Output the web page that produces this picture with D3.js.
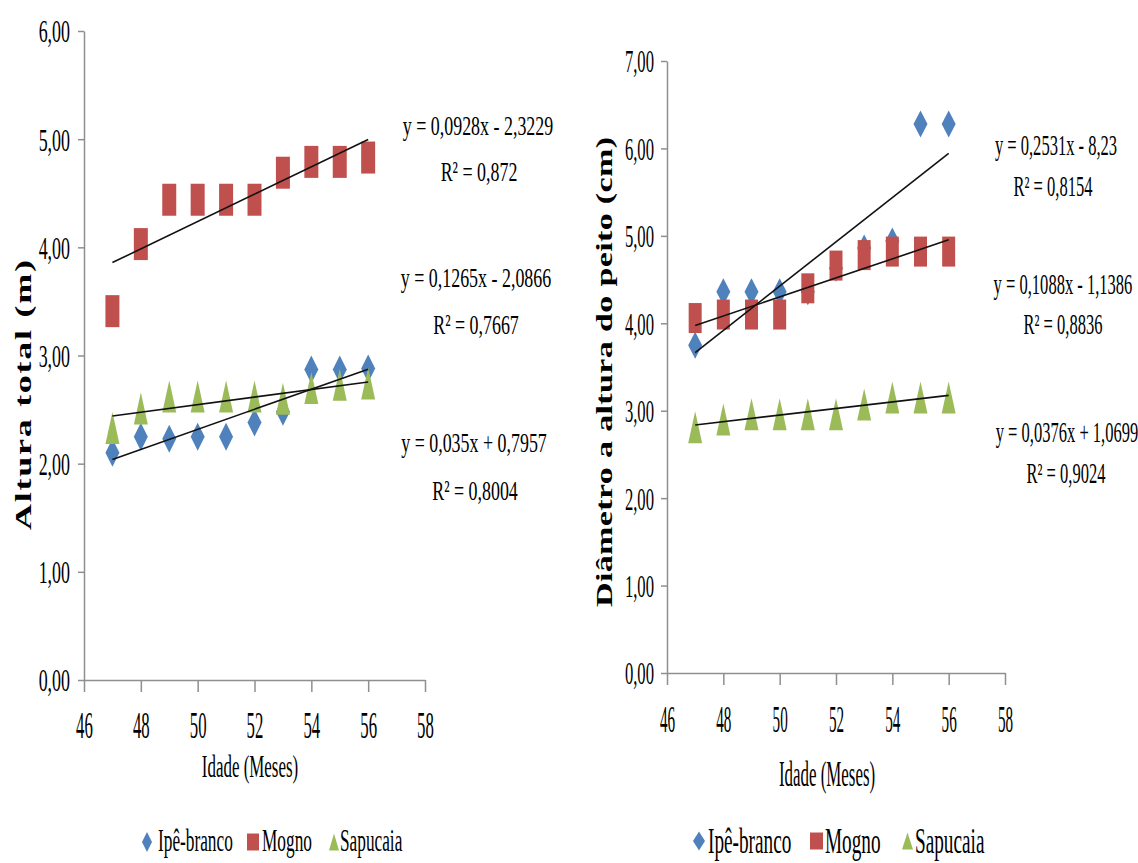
<!DOCTYPE html>
<html>
<head>
<meta charset="utf-8">
<script src="https://cdn.jsdelivr.net/npm/d3@7"></script>
<style>
  html, body { margin: 0; padding: 0; background: #fff; }
  text { font-family: "Liberation Serif", "Times New Roman", serif; fill: #000; }
</style>
</head>
<body>
<svg id="chart" width="1138" height="863"></svg>
<script>
// ---------------- DATA ----------------
const months = [47, 48, 49, 50, 51, 52, 53, 54, 55, 56];
const seriesNames = ["Ipê-branco", "Mogno", "Sapucaia"];

// Altura total (m)
const alturaIpe      = [2.10, 2.25, 2.23, 2.25, 2.25, 2.38, 2.48, 2.87, 2.87, 2.88];
const alturaMogno    = [3.41, 4.03, 4.44, 4.44, 4.44, 4.44, 4.69, 4.79, 4.79, 4.83];
const alturaSapucaia = [2.33, 2.51, 2.62, 2.62, 2.62, 2.62, 2.60, 2.70, 2.73, 2.74];
const alturaSlopes     = [0.0928, 0.1265, 0.035];
const alturaIntercepts = [-2.3229, -2.0866, 0.7957];
const alturaEqLabels = ["y = 0,0928x - 2,3229", "y = 0,1265x - 2,0866", "y = 0,035x + 0,7957"];
const alturaR2Labels = ["R² = 0,872", "R² = 0,7667", "R² = 0,8004"];
const alturaYTicks = [0, 1, 2, 3, 4, 5, 6];

// Diâmetro a altura do peito (cm)
const dapIpe      = [3.75, 4.36, 4.36, 4.36, 4.36, 4.63, 4.86, 4.94, 6.28, 6.28];
const dapMogno    = [4.06, 4.10, 4.10, 4.10, 4.40, 4.66, 4.78, 4.82, 4.82, 4.82];
const dapSapucaia = [2.81, 2.90, 2.96, 2.96, 2.96, 2.96, 3.07, 3.15, 3.15, 3.15];
const dapSlopes     = [0.2531, 0.1088, 0.0376];
const dapIntercepts = [-8.23, -1.1386, 1.0699];
const dapEqLabels = ["y = 0,2531x - 8,23", "y = 0,1088x - 1,1386", "y = 0,0376x + 1,0699"];
const dapR2Labels = ["R² = 0,8154", "R² = 0,8836", "R² = 0,9024"];
const dapYTicks = [0, 1, 2, 3, 4, 5, 6, 7];

const xTicks = [46, 48, 50, 52, 54, 56, 58];
const xTitle = "Idade (Meses)";
const alturaTitle = "Altura total (m)";
const dapTitle = "Diâmetro a altura do peito (cm)";

// ---------------- STYLE ----------------
const colors = ["#4F81BD", "#C0504D", "#9BBB59"];
const axisColor = "#8f8f8f";
const locale = d3.formatLocale({decimal: ",", thousands: ".", grouping: [3], currency: ["R$", ""]});
const fmt = locale.format(".2f");

const svg = d3.select("#chart");
svg.append("rect").attr("width", 1138).attr("height", 863).attr("fill", "#fff");

function markerPath(kind, w, h) {
  if (kind === 0) return `M0,${-h/2}L${w/2},0L0,${h/2}L${-w/2},0Z`;
  if (kind === 1) return `M${-w/2},${-h/2}H${w/2}V${h/2}H${-w/2}Z`;
  return `M0,${-h/2}L${w/2},${h/2}L${-w/2},${h/2}Z`;
}

function stext(g, x, y, str, size, sx, anchor, weight) {
  return g.append("text")
    .attr("transform", `translate(${x},${y}) scale(${sx},1)`)
    .attr("text-anchor", anchor || "start")
    .style("font-size", size + "px")
    .style("font-weight", weight || "normal")
    .text(str);
}

function drawPanel(cfg) {
  const g = svg.append("g");
  const x = d3.scaleLinear().domain([46, 58]).range([cfg.left, cfg.right]);
  const y = d3.scaleLinear().domain([0, cfg.yMax]).range([cfg.bottom, cfg.top]);

  // Y axis
  const ya = g.append("g").attr("transform", `translate(${cfg.left},0)`)
    .call(d3.axisLeft(y).tickValues(cfg.yTicks).tickFormat(fmt).tickSize(6).tickSizeOuter(0));
  ya.select(".domain").attr("stroke", axisColor).attr("stroke-width", 1.5);
  ya.selectAll(".tick line").attr("stroke", axisColor).attr("stroke-width", 1.5);
  ya.selectAll(".tick text").attr("x", null).attr("dy", null)
    .attr("transform", `translate(${cfg.yLabOff},${cfg.yLabSize * 0.34}) scale(${cfg.yLabSx},1)`)
    .style("font-size", cfg.yLabSize + "px").style("font-family", "Liberation Serif, serif").attr("fill", "#000");

  // X axis
  const xa = g.append("g").attr("transform", `translate(0,${cfg.bottom})`)
    .call(d3.axisBottom(x).tickValues(xTicks).tickFormat(d3.format("d")).tickSize(12).tickSizeOuter(0));
  xa.select(".domain").attr("stroke", axisColor).attr("stroke-width", 1.5);
  xa.selectAll(".tick line").attr("stroke", axisColor).attr("stroke-width", 1.5);
  xa.selectAll(".tick text").attr("y", null).attr("dy", null)
    .attr("transform", `translate(0,${cfg.xLabOff}) scale(${cfg.xLabSx},1)`)
    .style("font-size", cfg.xLabSize + "px").style("font-family", "Liberation Serif, serif").attr("fill", "#000");

  // Markers
  cfg.series.forEach((vals, si) => {
    const ms = cfg.markers[si];
    g.append("g").selectAll("path").data(months.map((m, i) => [m, vals[i]])).join("path")
      .attr("transform", d => `translate(${x(d[0])},${y(d[1])})`)
      .attr("d", markerPath(si, ms[0], ms[1]))
      .attr("fill", colors[si]);
  });

  // Trend lines
  const x0 = d3.min(months), x1 = d3.max(months);
  cfg.slopes.forEach((s, i) => {
    const b = cfg.intercepts[i];
    g.append("line")
      .attr("x1", x(x0)).attr("y1", y(s * x0 + b))
      .attr("x2", x(x1)).attr("y2", y(s * x1 + b))
      .attr("stroke", "#111").attr("stroke-width", 1.6);
  });

  // Equations
  cfg.eqLabels.forEach((t, i) => {
    const p = cfg.eqPos[i];
    stext(g, p[0], p[1], t, cfg.eqSize, cfg.eqSx, "middle");
    stext(g, p[2], p[3], cfg.r2Labels[i], cfg.eqSize, cfg.eqSx, "middle");
  });

  // Y title
  g.append("text")
    .attr("transform", `translate(${cfg.yTitle[0]},${cfg.yTitle[1]}) rotate(-90) scale(1,${cfg.yTitle[3]})`)
    .attr("text-anchor", "middle")
    .attr("textLength", cfg.yTitle[2]).attr("lengthAdjust", "spacing")
    .style("font-size", cfg.yTitle[4] + "px").style("font-weight", "bold")
    .text(cfg.yTitleText);

  // X title
  stext(g, cfg.xTitle[0], cfg.xTitle[1], xTitle, cfg.xTitle[2], cfg.xTitle[3], "middle");

  // Legend
  const L = cfg.legend;
  seriesNames.forEach((name, i) => {
    g.append("path")
      .attr("transform", `translate(${L.mx[i]},${L.my})`)
      .attr("d", markerPath(i, L.ms[i][0], L.ms[i][1]))
      .attr("fill", colors[i]);
    stext(g, L.tx[i], L.base, name, L.size, L.sx, "start");
  });
}

drawPanel({
  left: 84, right: 425, bottom: 680, top: 31, yMax: 6, yTicks: alturaYTicks,
  yLabOff: -14, yLabSize: 32, yLabSx: 0.56,
  xLabOff: 58, xLabSize: 39, xLabSx: 0.43,
  series: [alturaIpe, alturaMogno, alturaSapucaia],
  markers: [[14, 28], [14, 32], [14, 32]],
  slopes: alturaSlopes, intercepts: alturaIntercepts,
  eqLabels: alturaEqLabels, r2Labels: alturaR2Labels,
  eqSize: 28, eqSx: 0.64,
  eqPos: [[478, 135, 479, 181], [476, 287, 476, 334], [474, 452, 475, 500]],
  yTitleText: alturaTitle, yTitle: [31, 395, 270, 0.62, 36],
  xTitle: [250, 777, 32, 0.53],
  legend: {mx: [147, 253, 334], my: 842, ms: [[10, 20], [12, 17], [10, 17]],
           tx: [158, 262, 340], base: 851, size: 32, sx: 0.54}
});

drawPanel({
  left: 667, right: 1005, bottom: 673, top: 61, yMax: 7, yTicks: dapYTicks,
  yLabOff: -13, yLabSize: 32, yLabSx: 0.52,
  xLabOff: 58.5, xLabSize: 37, xLabSx: 0.41,
  series: [dapIpe, dapMogno, dapSapucaia],
  markers: [[14, 27], [13, 30], [14, 32]],
  slopes: dapSlopes, intercepts: dapIntercepts,
  eqLabels: dapEqLabels, r2Labels: dapR2Labels,
  eqSize: 29, eqSx: 0.57,
  eqPos: [[1056, 155, 1053, 196], [1063, 294, 1063, 334], [1067, 442, 1066, 483]],
  yTitleText: dapTitle, yTitle: [612, 372, 470, 0.66, 34],
  xTitle: [827, 786, 36, 0.47],
  legend: {mx: [699, 816.5, 907.5], my: 841, ms: [[12, 19], [13, 17], [11, 17]],
           tx: [708, 825, 915], base: 853, size: 35, sx: 0.55}
});
</script>
</body>
</html>
